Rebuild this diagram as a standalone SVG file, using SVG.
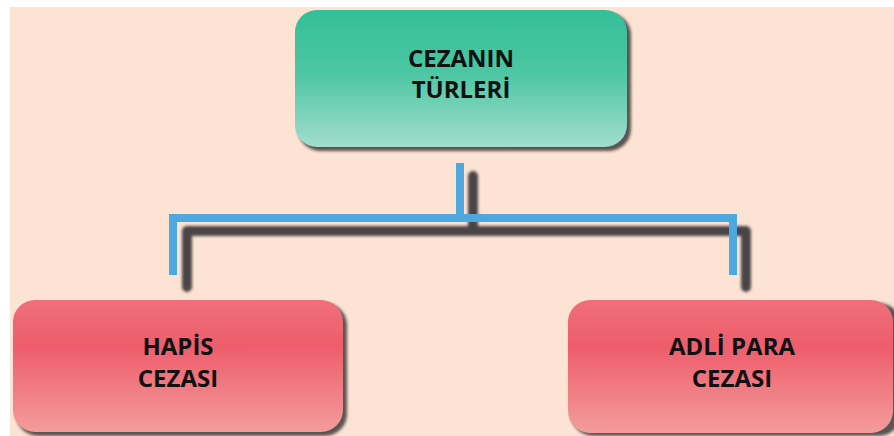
<svg xmlns="http://www.w3.org/2000/svg" width="894" height="436" viewBox="0 0 894 436">
<defs>
<linearGradient id="gTeal" x1="0" y1="0" x2="0" y2="1">
<stop offset="0" stop-color="#33bf98"/>
<stop offset="0.45" stop-color="#4cc6a3"/>
<stop offset="1" stop-color="#a2ddcc"/>
</linearGradient>
<linearGradient id="gPink" x1="0" y1="0" x2="0" y2="1">
<stop offset="0" stop-color="#ef6f7a"/>
<stop offset="0.35" stop-color="#ee5d6b"/>
<stop offset="1" stop-color="#f39c9c"/>
</linearGradient>
<filter id="blurS" x="-10%" y="-10%" width="120%" height="120%">
<feGaussianBlur stdDeviation="1.6"/>
</filter>
<filter id="blurL" x="-10%" y="-50%" width="120%" height="200%">
<feGaussianBlur stdDeviation="1.4"/>
</filter>
</defs>
<style>
.txt{font-family:"Open Sans","Liberation Sans",sans-serif;font-weight:bold;font-size:24px;fill:#111;text-anchor:middle}
.shadow{fill:#3e3a3b;opacity:0.85}
.blue{fill:none;stroke:#4ea8e0;stroke-width:8;stroke-linejoin:miter}
.dark{fill:none;stroke:#4a4446;stroke-width:10;stroke-linecap:round;stroke-linejoin:round}
</style>
<rect x="0" y="0" width="894" height="436" fill="#ffffff"/>
<rect x="10" y="7" width="884" height="429" fill="#fde3d3"/>
<g id="connectors">
<path class="dark" d="M473 176 V231 M187 287 V231 H746 V287" filter="url(#blurL)"/>
<path class="blue" d="M460 163 V218 M173 275 V218 H733 V275"/>
</g>
<g id="node-cezanin-turleri">
<rect class="shadow" x="298" y="13" width="333" height="138" rx="22" filter="url(#blurS)"/>
<rect x="295" y="10" width="332" height="137" rx="22" fill="url(#gTeal)"/>
<text class="txt" x="461" y="67">CEZANIN</text>
<text class="txt" x="461" y="98">TÜRLERİ</text>
</g>
<g id="node-hapis-cezasi">
<rect class="shadow" x="16" y="303" width="331" height="133" rx="22" filter="url(#blurS)"/>
<rect x="13" y="300" width="330" height="132" rx="22" fill="url(#gPink)"/>
<text class="txt" x="178" y="355">HAPİS</text>
<text class="txt" x="178" y="387">CEZASI</text>
</g>
<g id="node-adli-para-cezasi">
<rect class="shadow" x="571" y="303" width="330" height="133" rx="22" filter="url(#blurS)"/>
<rect x="568" y="300" width="325" height="133" rx="22" fill="url(#gPink)"/>
<text class="txt" x="732" y="355">ADLİ PARA</text>
<text class="txt" x="732" y="387">CEZASI</text>
</g>
</svg>
